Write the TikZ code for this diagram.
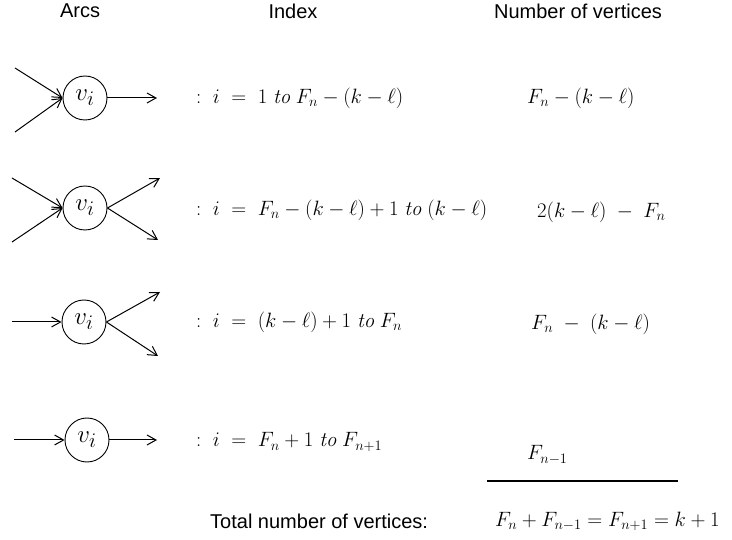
\documentclass[tikz,border=0pt]{standalone}
\usepackage{fontspec}
\setsansfont{Liberation Sans}
\usepackage{tikz}
\usetikzlibrary{arrows.meta,positioning}
\newcommand{\kl}{(k-\ell)}
\newcommand{\upto}{\;\mathit{to}\;}

\begin{document}
\begin{tikzpicture}[
   x=1pt, y=-1pt,
   vtx/.style={draw, circle, minimum size=44pt, inner sep=0pt, line width=0.9pt,
      font=\Huge},
   arc/.style={-{Straight Barb[length=9pt, width=10pt]}, line width=1pt},
   head/.style={font=\sffamily\fontsize{20}{22}\selectfont, inner sep=0pt},
   idx/.style={anchor=west, inner sep=0pt, font=\huge},
   cnt/.style={anchor=west, inner sep=0pt, font=\huge}
]
\useasboundingbox (0,0) rectangle (732,540);
% column headers
\node[head] (hArcs) at (80,11) {Arcs};
\node[head] (hIdx) at (293,11) {Index};
\node[head] (hCnt) at (578,11) {Number of vertices};

% row 1: two in, one out
\node[vtx] (v1) at (85,98) {$v_i$};
\coordinate (a1) at (15,68);
\coordinate (b1) at (15,132);
\coordinate (c1) at (157,98);
\draw[arc] (a1) -- (v1.west);
\draw[arc] (b1) -- (v1.west);
\draw[arc] (v1.east) -- (c1);
\node[idx] (i1) at (196,98) {$:\; i \;=\; 1 \upto F_n - \kl$};
\node[cnt] (n1) at (527,98) {$F_n - \kl$};

% row 2: two in, two out
\node[vtx] (v2) at (85,208) {$v_i$};
\coordinate (a2) at (12,178);
\coordinate (b2) at (12,242);
\coordinate (c2) at (160,178);
\coordinate (d2) at (158,240);
\draw[arc] (a2) -- (v2.west);
\draw[arc] (b2) -- (v2.west);
\draw[arc] (v2.east) -- (c2);
\draw[arc] (v2.east) -- (d2);
\node[idx] (i2) at (196,210) {$:\; i \;=\; F_n - \kl + 1 \upto \kl$};
\node[cnt] (n2) at (537,212) {$2\kl \;-\; F_n$};

% row 3: one in, two out
\node[vtx] (v3) at (84,322) {$v_i$};
\coordinate (a3) at (12,322);
\coordinate (c3) at (160,292);
\coordinate (d3) at (158,356);
\draw[arc] (a3) -- (v3.west);
\draw[arc] (v3.east) -- (c3);
\draw[arc] (v3.east) -- (d3);
\node[idx] (i3) at (196,322) {$:\; i \;=\; \kl + 1 \upto F_n$};
\node[cnt] (n3) at (531,324) {$F_n \;-\; \kl$};

% row 4: one in, one out
\node[vtx] (v4) at (87,440) {$v_i$};
\coordinate (a4) at (14,440);
\coordinate (c4) at (157,440);
\draw[arc] (a4) -- (v4.west);
\draw[arc] (v4.east) -- (c4);
\node[idx] (i4) at (196,442) {$:\; i \;=\; F_n + 1 \upto F_{n+1}$};
\node[cnt] (n4) at (527,455) {$F_{n-1}$};

% sum
\coordinate (s1) at (487,481);
\coordinate (s2) at (678,481);
\draw[line width=1.3pt] (s1) -- (s2);
\node[head, anchor=west] (tot) at (210,521) {Total number of vertices:};
\node[cnt] (sum) at (495,521) {$F_n + F_{n-1} = F_{n+1} = k + 1$};
\end{tikzpicture}
\end{document}
